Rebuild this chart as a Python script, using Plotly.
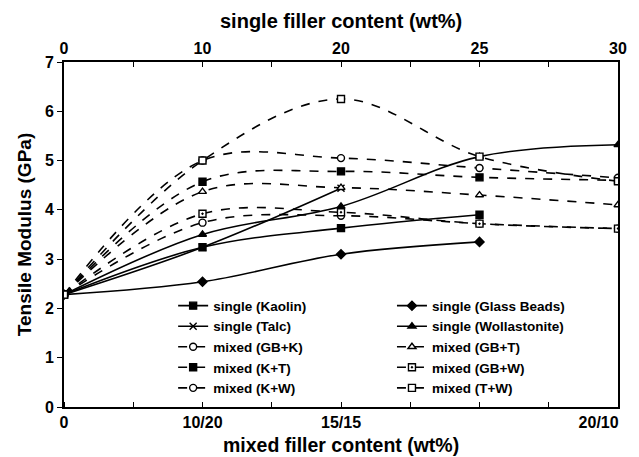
import plotly.graph_objects as go

# x positions (index of content level)
pos5 = [0, 1, 2, 3, 4]
top_ticktext = ["0", "10", "20", "25", "30"]
bottom_tickvals = [0, 1, 2, 3.86]
bottom_ticktext = ["0", "10/20", "15/15", "20/10"]

# single filler series
kaolin = [2.28, 3.24, 3.63, 3.90]
glass_beads = [2.28, 2.54, 3.10, 3.35]
talc = [2.28, 3.24, 4.44]
wollastonite = [2.28, 3.50, 4.07, 5.08, 5.32]

# mixed filler series
gb_k = [2.28, 3.74, 3.88, 3.72, 3.62]
gb_t = [2.28, 4.37, 4.45, 4.30, 4.10]
k_t = [2.28, 4.57, 4.78, 4.66, 4.60]
gb_w = [2.28, 3.92, 3.95, 3.72, 3.62]
k_w = [2.28, 5.00, 5.05, 4.85, 4.65]
t_w = [2.28, 5.00, 6.25, 5.08, 4.58]

FONT = "Liberation Sans, Arial, sans-serif"
NARROW = "Liberation Sans Narrow, Liberation Sans, Arial, sans-serif"

fig = go.Figure()

def add(name, y, symbol, dash, legend, filled=True):
    fig.add_trace(go.Scatter(
        x=pos5[:len(y)], y=y, name=name, mode="lines+markers",
        line=dict(color="black", width=1.6, dash=dash, shape="spline", smoothing=1.0),
        marker=dict(symbol=symbol, size=7, color="black" if filled else "white",
                    line=dict(color="black", width=1.4)),
        legend=legend,
    ))

add("single (Kaolin)", kaolin, "square", "solid", "legend")
add("single (Talc)", talc, "x-thin", "solid", "legend")
add("mixed (GB+K)", gb_k, "circle", "dash", "legend", filled=False)
add("mixed (K+T)", k_t, "square", "dash", "legend")
add("mixed (K+W)", k_w, "circle", "dash", "legend", filled=False)
add("single (Glass Beads)", glass_beads, "diamond", "solid", "legend2")
add("single (Wollastonite)", wollastonite, "triangle-up", "solid", "legend2")
add("mixed (GB+T)", gb_t, "triangle-up", "dash", "legend2", filled=False)
add("mixed (GB+W)", gb_w, "square-dot", "dash", "legend2", filled=False)
add("mixed (T+W)", t_w, "square", "dash", "legend2", filled=False)

# dummy trace for the top axis
fig.add_trace(go.Scatter(x=[0, 4], y=[None, None], xaxis="x2", showlegend=False, hoverinfo="skip"))

half = [i * 0.5 for i in range(9)]

fig.update_layout(
    width=639, height=457,
    margin=dict(l=64, r=13, t=62, b=50),
    paper_bgcolor="white", plot_bgcolor="white",
    font=dict(family=FONT, color="black", size=14),
    xaxis=dict(
        range=[0, 4], showgrid=False, zeroline=False,
        showline=True, linecolor="black", linewidth=2, mirror=False,
        tickvals=bottom_tickvals, ticktext=bottom_ticktext,
        ticks="", ticklen=0,
        tickfont=dict(family=NARROW, size=16, weight="bold"),
        minor=dict(tickvals=half, ticks="inside", ticklen=5, tickcolor="black", tickwidth=1),
    ),
    xaxis2=dict(
        range=[0, 4], overlaying="x", side="top", showgrid=False, zeroline=False,
        showline=True, linecolor="black", linewidth=2,
        tickvals=pos5, ticktext=top_ticktext,
        ticks="inside", ticklen=5, tickcolor="black",
        tickfont=dict(family=NARROW, size=16, weight="bold"),
        minor=dict(tickvals=half, ticks="inside", ticklen=5, tickcolor="black", tickwidth=1),
    ),
    yaxis=dict(
        range=[0, 7], showgrid=False, zeroline=False,
        showline=True, linecolor="black", linewidth=2, mirror=True,
        tickvals=[0, 1, 2, 3, 4, 5, 6, 7], ticks="outside", ticklen=5, tickcolor="black",
        tickfont=dict(family=NARROW, size=16, weight="bold"),
        title=dict(text="Tensile Modulus (GPa)", font=dict(family=FONT, size=19, weight="bold"), standoff=8),
    ),
    legend=dict(x=0.197, y=0.338, xanchor="left", yanchor="top", bgcolor="rgba(0,0,0,0)",
                font=dict(family=FONT, size=13.5, weight="bold"), tracegroupgap=0),
    legend2=dict(x=0.592, y=0.338, xanchor="left", yanchor="top", bgcolor="rgba(0,0,0,0)",
                 font=dict(family=FONT, size=13.5, weight="bold"), tracegroupgap=0),
    annotations=[
        dict(text="single filler content (wt%)", xref="paper", yref="paper", x=0.5, y=1.118,
             xanchor="center", yanchor="middle", showarrow=False,
             font=dict(family=FONT, size=20, weight="bold")),
        dict(text="mixed filler content (wt%)", xref="paper", yref="paper", x=0.5, y=-0.109,
             xanchor="center", yanchor="middle", showarrow=False,
             font=dict(family=FONT, size=19.5, weight="bold")),
    ],
)

fig.write_html("out.html")
